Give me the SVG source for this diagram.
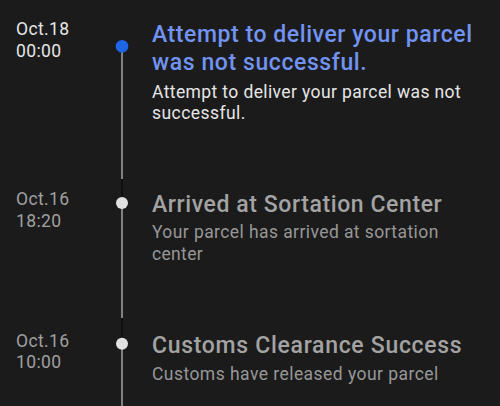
<svg xmlns="http://www.w3.org/2000/svg" width="500" height="406" viewBox="0 0 500 406">
<style>
text{font-family:Roboto,"Noto Sans",sans-serif}
.date{font-size:17.5px}
.d1{fill:#e6e6e6}
.d2{fill:#a0a0a0}
.title{font-size:23px;font-weight:500}
.t1{fill:#7293f2}
.t2{fill:#a3a3a3}
.desc{font-size:17.5px}
.s1{fill:#e6e6e6}
.s2{fill:#979797}
.line{stroke:#9d9d9d;stroke-width:1.6}
.gap{stroke:#0e0e0e;stroke-width:1.6}
</style>
<rect width="500" height="406" fill="#1b1b1b"/>
<g id="connectors">
<line class="line" x1="122" y1="46" x2="122" y2="179"/>
<line class="gap" x1="122" y1="179" x2="122" y2="203"/>
<line class="line" x1="122" y1="203" x2="122" y2="318"/>
<line class="gap" x1="122" y1="318" x2="122" y2="344"/>
<line class="line" x1="122" y1="344" x2="122" y2="406"/>
</g>
<g id="event1">
<text class="date d1" x="16" y="35.3" textLength="53" lengthAdjust="spacing">Oct.18</text>
<text class="date d1" x="16" y="57" textLength="45" lengthAdjust="spacing">00:00</text>
<circle cx="122" cy="46.3" r="6.3" fill="#1f66e6"/>
<text class="title t1" x="152" y="41.5" textLength="320" lengthAdjust="spacing">Attempt to deliver your parcel</text>
<text class="title t1" x="152" y="70" textLength="214.7" lengthAdjust="spacing">was not successful.</text>
<text class="desc s1" x="152" y="97.5" textLength="308.7" lengthAdjust="spacing">Attempt to deliver your parcel was not</text>
<text class="desc s1" x="152" y="118.7" textLength="93.3" lengthAdjust="spacing">successful.</text>
</g>
<g id="event2">
<text class="date d2" x="16" y="205" textLength="53" lengthAdjust="spacing">Oct.16</text>
<text class="date d2" x="16" y="226.7" textLength="45" lengthAdjust="spacing">18:20</text>
<circle cx="122" cy="203" r="6" fill="#e2e2e2"/>
<text class="title t2" x="152" y="211.7" textLength="289.7" lengthAdjust="spacing">Arrived at Sortation Center</text>
<text class="desc s2" x="152" y="238.3" textLength="286.3" lengthAdjust="spacing">Your parcel has arrived at sortation</text>
<text class="desc s2" x="152" y="260" textLength="50.7" lengthAdjust="spacing">center</text>
</g>
<g id="event3">
<text class="date d2" x="16" y="346.7" textLength="53" lengthAdjust="spacing">Oct.16</text>
<text class="date d2" x="16" y="368.3" textLength="45" lengthAdjust="spacing">10:00</text>
<circle cx="122" cy="343.7" r="6" fill="#e2e2e2"/>
<text class="title t2" x="152" y="352.7" textLength="309.7" lengthAdjust="spacing">Customs Clearance Success</text>
<text class="desc s2" x="152" y="380" textLength="286.3" lengthAdjust="spacing">Customs have released your parcel</text>
</g>
</svg>
